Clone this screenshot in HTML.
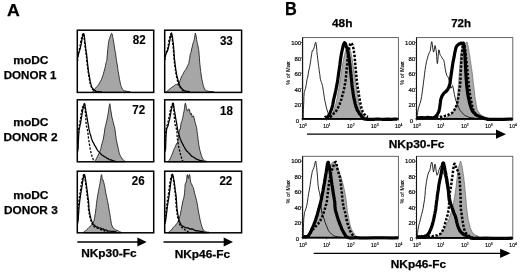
<!DOCTYPE html>
<html><head><meta charset="utf-8"><title>Figure</title>
<style>
html,body{margin:0;padding:0;background:#fff;}
svg{display:block;font-family:"Liberation Sans",sans-serif;filter:blur(0.35px);}
</style></head><body>
<svg width="520" height="273" viewBox="0 0 520 273">
<rect width="520" height="273" fill="#fff"/>
<polygon points="93.0,91.2 93.6,90.4 94.4,89.3 95.4,88.5 96.5,86.9 97.7,86.0 98.9,84.2 100.1,81.9 101.3,79.8 102.4,76.9 103.3,74.4 104.1,71.2 104.8,68.7 105.2,67.0 105.5,65.7 105.8,63.7 106.1,62.5 106.5,61.5 106.8,60.3 107.0,58.2 107.2,56.0 107.4,54.1 107.6,50.8 107.9,48.5 108.2,45.5 108.5,43.1 108.8,41.2 109.2,39.6 109.6,38.5 110.0,36.9 110.4,36.1 110.8,34.9 111.3,33.6 111.7,33.3 112.0,33.6 112.3,34.9 112.6,36.3 112.8,37.5 113.0,38.3 113.3,39.6 113.6,41.8 114.0,44.3 114.4,46.7 114.8,49.4 115.2,51.6 115.6,53.6 115.9,56.1 116.2,58.3 116.5,60.8 116.9,62.9 117.3,64.8 117.6,67.3 117.8,68.1 117.9,69.5 118.2,71.6 118.7,74.4 119.4,78.6 120.0,81.7 120.6,84.5 121.2,86.4 121.8,87.9 122.4,89.3 123.0,89.9 124.1,90.8 126.0,91.2 128.3,91.5 130.0,91.6 130.0,92.4 93.0,92.4" fill="#a6a6a6" stroke="#222" stroke-width="0.9" stroke-linejoin="round"/>
<polyline points="77.6,61.0 77.6,60.2 77.6,59.2 77.7,58.0 77.8,56.3 77.9,55.1 78.1,53.6 78.4,52.9 78.8,51.8 79.1,50.8 79.5,49.2 79.8,47.1 80.2,45.0 80.6,43.0 80.9,40.5 81.3,39.0 81.7,37.2 82.1,35.7 82.5,34.5 82.9,34.0 83.2,33.3 83.4,33.6 83.6,34.5 83.8,35.9 83.9,36.8 84.1,38.5 84.3,40.2 84.5,42.3 84.8,44.4 85.0,46.4 85.2,47.9 85.4,49.5 85.6,50.9 85.8,52.6 86.0,53.9 86.2,54.8 86.3,56.1 86.5,57.4 86.6,58.7 86.7,60.3 86.9,62.1 87.1,63.9 87.4,66.0 87.7,68.7 88.0,71.2 88.4,73.7 88.8,76.4 89.3,78.8 89.7,81.3 90.2,83.6 90.7,85.5 91.2,86.5 91.6,88.0 92.1,88.7 92.5,89.4 93.0,89.9 93.5,90.2 94.1,90.6 94.7,90.7 95.2,91.2 95.5,91.3" fill="none" stroke="#000" stroke-width="1.3" stroke-linejoin="round" stroke-linecap="butt" stroke-dasharray="2.2 1.5" />
<polyline points="77.5,58.5 77.7,57.5 77.9,56.7 78.1,55.8 78.4,54.6 78.7,53.7 79.0,52.4 79.3,51.3 79.7,50.4 80.0,49.1 80.4,47.9 80.8,45.9 81.1,44.6 81.5,42.3 81.9,39.9 82.2,38.3 82.5,36.9 82.8,35.5 83.1,34.1 83.4,33.9 83.6,33.7 83.8,33.6 84.0,34.4 84.2,35.3 84.4,36.7 84.6,38.4 84.8,40.0 85.0,42.4 85.3,43.9 85.5,45.8 85.7,48.4 85.9,49.6 86.1,50.7 86.3,52.4 86.5,53.3 86.7,55.0 86.8,56.7 87.0,57.9 87.1,59.0 87.2,60.1 87.4,61.9 87.6,63.8 87.9,66.6 88.2,68.8 88.5,71.5 88.9,73.6 89.3,75.9 89.8,79.0 90.3,81.7 90.8,83.8 91.3,85.6 91.8,87.0 92.2,87.9 92.6,88.2 93.1,89.0 93.6,89.4 94.1,89.7 94.6,90.1 95.1,90.6 95.7,90.9 96.5,91.5 97.5,91.8 98.8,91.5 100.1,91.9 101.2,92.0 102.0,91.6" fill="none" stroke="#000" stroke-width="1.25" stroke-linejoin="round" stroke-linecap="butt" />
<rect x="77.3" y="30.2" width="76.4" height="62.2" fill="none" stroke="#000" stroke-width="1.5"/>
<text x="132.8" y="44.2" font-size="13" font-weight="bold" textLength="12.9" lengthAdjust="spacingAndGlyphs" stroke="#000" stroke-width="0.15">82</text>
<polygon points="166.5,91.5 166.6,91.9 166.8,91.4 167.3,91.0 168.4,90.1 170.0,88.8 171.4,87.6 172.7,86.8 173.9,86.0 174.9,85.1 175.6,84.5 176.2,84.4 176.7,84.5 177.2,84.2 177.7,84.9 178.2,85.1 178.7,84.4 179.1,83.4 179.6,82.0 180.1,80.3 180.7,79.1 181.3,77.1 182.0,75.9 182.8,74.5 183.7,72.5 184.7,70.9 185.7,69.7 186.6,68.1 187.3,66.4 187.9,65.2 188.4,64.1 188.7,63.6 189.0,62.5 189.2,60.8 189.5,59.3 189.8,57.3 190.1,55.1 190.5,53.6 190.9,52.8 191.3,51.1 191.7,48.9 192.2,47.0 192.7,44.5 193.2,42.7 193.7,41.6 194.2,39.7 194.6,37.5 195.0,34.8 195.4,33.1 195.8,34.3 196.2,37.0 196.6,39.5 197.0,41.8 197.4,43.5 197.8,45.5 198.2,47.1 198.6,49.5 198.9,51.3 199.1,54.3 199.4,57.7 199.6,61.3 199.9,64.3 200.3,68.2 200.7,71.4 201.2,75.1 201.8,78.8 202.4,81.7 203.0,84.6 203.6,86.5 204.2,88.1 204.7,89.8 205.3,90.0 206.5,90.8 208.9,91.4 211.9,91.6 214.0,91.8 214.0,92.4 166.5,92.4" fill="#a6a6a6" stroke="#222" stroke-width="0.9" stroke-linejoin="round"/>
<polyline points="165.0,60.0 165.0,59.2 165.0,58.4 165.1,57.3 165.2,56.3 165.4,54.8 165.7,54.0 166.1,52.7 166.6,51.6 167.1,50.6 167.5,49.0 167.9,47.2 168.2,45.2 168.6,43.1 168.9,40.7 169.3,39.1 169.7,37.4 170.1,36.0 170.5,34.8 170.9,33.8 171.2,33.5 171.4,33.7 171.6,34.8 171.8,35.8 171.9,37.3 172.1,38.8 172.3,40.0 172.5,42.0 172.8,44.2 173.0,46.2 173.2,47.8 173.3,49.7 173.5,51.8 173.6,53.5 173.7,55.6 173.9,57.7 174.2,60.6 174.5,63.5 174.9,66.5 175.3,68.8 175.6,71.5 175.9,73.5 176.2,75.0 176.6,77.0 176.9,78.5 177.2,79.4 177.5,81.2 177.9,82.1 178.2,83.3 178.6,84.7 179.0,85.6 179.5,86.2 180.1,87.3 180.6,88.3 181.2,88.9 181.8,89.5 182.4,90.1 183.0,90.7 183.6,90.6 184.1,91.1 184.5,91.2" fill="none" stroke="#000" stroke-width="1.3" stroke-linejoin="round" stroke-linecap="butt" stroke-dasharray="2.2 1.5" />
<polyline points="165.3,57.3 165.4,56.8 165.5,55.9 165.6,55.4 165.8,54.8 166.1,53.8 166.5,52.5 166.9,52.2 167.4,50.9 167.9,49.8 168.4,47.7 168.8,46.1 169.2,43.9 169.5,42.4 169.9,40.0 170.2,38.2 170.5,37.0 170.8,35.9 171.1,34.7 171.4,33.4 171.6,33.0 171.8,33.9 172.0,34.5 172.2,35.8 172.4,36.7 172.6,38.1 172.8,40.3 173.1,41.9 173.3,43.6 173.5,46.3 173.7,48.1 173.8,50.2 174.0,51.5 174.1,54.0 174.2,55.4 174.4,58.3 174.7,60.5 175.0,63.2 175.4,66.3 175.7,69.3 176.1,71.2 176.4,73.1 176.8,75.2 177.1,76.5 177.5,77.9 177.8,79.3 178.1,80.6 178.5,81.9 178.8,83.2 179.2,84.2 179.6,85.6 180.1,86.2 180.7,87.3 181.3,87.9 181.9,88.7 182.5,89.1 183.1,89.8 183.6,90.0 184.1,90.8 184.7,90.9 185.4,90.9 186.3,91.3 187.3,91.8 188.4,91.2 189.3,91.9 190.0,91.7" fill="none" stroke="#000" stroke-width="1.25" stroke-linejoin="round" stroke-linecap="butt" />
<rect x="164.7" y="30.2" width="76.9" height="62.2" fill="none" stroke="#000" stroke-width="1.5"/>
<text x="219.9" y="45.0" font-size="13" font-weight="bold" textLength="12.9" lengthAdjust="spacingAndGlyphs" stroke="#000" stroke-width="0.15">33</text>
<polygon points="94.5,161.5 94.8,161.2 95.2,160.7 95.7,160.1 96.4,158.5 97.2,156.9 98.0,155.3 98.8,153.8 99.7,151.6 100.4,150.2 100.9,148.6 101.2,147.0 101.6,145.1 102.1,143.4 102.7,141.3 103.3,139.1 103.8,136.1 104.3,133.1 104.7,129.8 105.0,127.8 105.3,126.4 105.7,125.2 106.2,123.1 106.8,120.5 107.4,117.8 107.8,115.5 108.2,113.1 108.6,110.9 109.0,107.8 109.4,105.2 109.8,103.7 110.2,105.5 110.5,108.4 110.9,110.9 111.3,113.1 111.7,116.0 112.1,117.9 112.7,120.3 113.3,122.5 113.9,124.9 114.3,126.6 114.7,128.1 115.0,129.8 115.4,132.9 115.8,135.8 116.2,139.2 116.8,142.0 117.4,144.9 118.0,147.3 118.5,149.8 119.0,152.3 119.7,154.4 120.6,156.5 121.7,158.0 122.7,159.5 123.8,160.4 124.8,161.2 125.5,161.5 125.5,161.8 94.5,161.8" fill="#a6a6a6" stroke="#222" stroke-width="0.9" stroke-linejoin="round"/>
<polyline points="77.6,152.0 77.6,150.2 77.7,147.1 77.7,143.7 77.8,140.9 77.9,137.8 78.0,136.1 78.1,134.4 78.2,132.5 78.3,131.6 78.5,130.2 78.7,128.8 78.9,127.7 79.1,126.6 79.3,125.0 79.5,124.0 79.7,122.6 80.0,121.4 80.2,119.9 80.5,118.4 80.7,116.9 80.9,115.6 81.1,114.0 81.3,112.5 81.6,110.9 81.9,109.4 82.3,108.1 82.8,106.7 83.3,105.2 83.7,104.7 84.1,104.1 84.4,104.6 84.6,105.5 84.8,106.9 84.9,108.3 85.1,109.4 85.2,111.2 85.4,112.5 85.5,113.8 85.6,115.3 85.7,116.9 85.8,118.2 85.9,120.3 86.0,121.7 86.1,123.3 86.3,124.9 86.5,126.3 86.7,126.8 87.0,128.0 87.3,129.1 87.5,130.0 87.7,131.5 88.0,133.4 88.2,135.5 88.4,137.5 88.7,139.5 89.0,141.6 89.3,143.5 89.7,145.8 90.0,147.9 90.4,150.1 90.8,151.6 91.1,153.3 91.5,154.3 91.8,155.6 92.2,156.9 92.6,158.1 93.0,159.0 93.3,159.8 93.7,160.1 93.9,160.7" fill="none" stroke="#000" stroke-width="1.3" stroke-linejoin="round" stroke-linecap="butt" stroke-dasharray="2.2 1.5" />
<polyline points="78.0,150.0 78.1,148.2 78.2,145.5 78.3,142.4 78.5,139.2 78.6,137.3 78.7,134.8 78.9,133.7 79.0,132.1 79.1,130.0 79.3,129.0 79.5,128.1 79.7,127.2 79.9,125.8 80.2,124.7 80.4,123.6 80.6,122.9 80.9,120.9 81.1,119.8 81.4,117.9 81.6,116.8 81.8,115.7 82.1,113.6 82.3,112.7 82.5,111.0 82.8,110.0 83.1,108.4 83.5,106.5 83.8,105.6 84.2,104.3 84.5,103.5 84.8,103.9 85.0,105.3 85.2,106.7 85.5,108.1 85.7,109.4 85.9,110.9 86.2,112.3 86.4,114.2 86.7,115.0 86.9,117.0 87.1,118.5 87.4,119.3 87.6,121.4 87.9,122.6 88.1,124.1 88.3,124.9 88.5,126.2 88.7,127.4 88.9,129.1 89.2,130.1 89.5,131.2 89.8,132.7 90.2,134.0 90.6,135.2 91.0,136.7 91.5,138.7 92.0,139.7 92.6,141.6 93.2,142.4 93.9,143.8 94.6,145.4 95.4,146.4 96.2,147.9 97.1,149.6 98.0,150.8 99.0,151.9 100.0,152.9 101.1,154.2 102.2,155.2 103.3,155.8 104.5,156.8 105.7,157.1 107.0,158.3 108.2,158.7 109.2,159.5 110.1,159.8 110.8,159.9 111.4,159.9 112.1,160.8 112.7,160.4 113.4,160.9 114.2,161.0 114.9,161.1 115.6,161.5 116.0,161.5" fill="none" stroke="#000" stroke-width="1.25" stroke-linejoin="round" stroke-linecap="butt" />
<rect x="77.3" y="99.8" width="76.4" height="62.0" fill="none" stroke="#000" stroke-width="1.5"/>
<text x="132.2" y="114.3" font-size="13" font-weight="bold" textLength="12.9" lengthAdjust="spacingAndGlyphs" stroke="#000" stroke-width="0.15">72</text>
<polygon points="167.5,161.5 168.0,161.5 168.8,160.6 169.6,160.0 170.4,158.3 171.2,156.6 172.0,154.5 172.8,152.5 173.5,150.5 174.3,148.6 175.1,147.2 176.0,145.0 176.7,143.3 177.2,143.0 177.5,142.7 177.8,141.7 178.0,140.2 178.2,138.6 178.4,136.7 178.8,134.5 179.2,131.7 179.6,129.8 179.8,129.3 180.0,129.6 180.2,129.3 180.5,127.3 180.9,124.6 181.3,122.5 181.6,121.6 181.9,121.0 182.2,120.2 182.5,118.6 182.8,117.2 183.1,115.9 183.5,113.5 183.9,111.8 184.3,109.8 184.6,107.3 185.0,104.2 185.4,103.1 185.9,105.0 186.6,108.5 187.2,110.9 187.8,110.9 188.4,109.3 189.0,108.8 189.5,109.8 190.0,112.3 190.4,114.5 190.7,114.6 191.0,113.5 191.3,113.3 191.6,113.9 191.9,115.7 192.2,117.1 192.6,116.7 193.0,115.9 193.4,115.9 193.8,116.8 194.3,118.9 194.8,121.2 195.4,123.5 196.1,125.7 196.6,127.6 196.8,128.4 196.8,129.0 196.9,130.2 197.1,131.9 197.5,134.5 197.8,136.7 198.1,139.8 198.5,142.2 198.9,145.5 199.4,148.1 200.0,150.7 200.7,153.1 201.4,155.5 202.3,157.8 203.0,159.4 203.6,159.9 204.2,160.1 204.8,160.7 205.6,161.1 206.4,161.2 207.0,161.5 207.0,161.8 167.5,161.8" fill="#a6a6a6" stroke="#222" stroke-width="0.9" stroke-linejoin="round"/>
<polyline points="165.0,152.0 165.0,149.8 165.1,147.2 165.1,143.5 165.2,140.5 165.3,138.0 165.4,136.2 165.5,134.3 165.6,132.8 165.7,131.2 165.9,129.8 166.1,128.9 166.3,128.6 166.5,127.8 166.7,126.9 167.0,125.8 167.3,124.9 167.6,123.7 168.0,122.2 168.3,120.6 168.7,119.2 169.0,117.6 169.4,115.2 169.7,113.1 170.1,111.3 170.5,109.7 170.9,108.2 171.4,106.2 171.9,105.1 172.3,104.0 172.7,103.5 173.0,103.8 173.2,105.3 173.4,106.4 173.5,108.4 173.7,109.5 173.8,110.9 174.0,112.6 174.1,113.8 174.2,115.6 174.3,116.8 174.4,118.0 174.5,119.5 174.6,121.0 174.7,122.6 174.9,124.1 175.2,124.9 175.6,126.2 176.0,127.3 176.4,129.0 176.7,129.8 176.9,131.1 177.0,132.4 177.0,134.0 177.1,135.7 177.2,137.2 177.4,138.7 177.6,140.5 177.8,142.1 178.1,143.4 178.4,145.0 178.7,147.1 179.1,148.7 179.5,150.0 179.8,152.0 180.2,153.3 180.6,154.7 180.9,156.0 181.3,157.1 181.6,158.1 181.9,159.2 182.2,159.9 182.4,160.8 182.7,160.7 182.9,161.5 183.0,161.5" fill="none" stroke="#000" stroke-width="1.3" stroke-linejoin="round" stroke-linecap="butt" stroke-dasharray="2.2 1.5" />
<polyline points="165.5,150.0 165.6,147.9 165.7,145.4 165.8,142.7 165.9,139.7 166.0,136.9 166.1,134.6 166.2,133.2 166.4,131.5 166.5,130.5 166.7,128.8 166.9,128.1 167.1,128.0 167.4,126.9 167.6,126.8 167.9,126.3 168.2,125.2 168.5,123.3 168.9,121.9 169.2,120.4 169.6,119.4 170.0,117.1 170.3,115.6 170.7,113.7 171.0,111.3 171.4,109.5 171.8,108.4 172.1,106.4 172.5,104.6 172.8,103.9 173.1,103.2 173.4,103.6 173.6,104.5 173.8,106.7 174.1,108.5 174.3,109.8 174.5,111.4 174.8,112.1 175.0,113.7 175.3,115.4 175.5,117.2 175.7,118.6 176.0,119.6 176.2,120.9 176.5,122.4 176.7,123.8 176.9,125.4 177.1,126.0 177.3,127.7 177.5,128.9 177.8,130.3 178.1,131.6 178.4,132.9 178.8,134.1 179.2,135.5 179.6,136.9 180.0,138.5 180.4,139.1 180.9,140.4 181.4,141.9 181.9,142.7 182.5,143.7 183.2,144.9 183.9,146.5 184.6,147.5 185.4,149.2 186.3,150.3 187.2,151.6 188.2,152.3 189.1,153.3 190.1,154.3 191.0,155.5 191.9,156.4 192.8,156.8 193.8,157.3 194.8,158.0 195.9,158.8 197.2,159.3 198.5,159.9 199.7,160.4 200.7,160.6 201.6,160.5 202.4,161.3 203.0,161.1 203.6,161.4 204.0,161.5" fill="none" stroke="#000" stroke-width="1.25" stroke-linejoin="round" stroke-linecap="butt" />
<rect x="164.7" y="99.8" width="76.9" height="62.0" fill="none" stroke="#000" stroke-width="1.5"/>
<text x="220.0" y="114.5" font-size="13" font-weight="bold" textLength="12.9" lengthAdjust="spacingAndGlyphs" stroke="#000" stroke-width="0.15">18</text>
<polygon points="83.4,232.3 84.3,231.6 85.6,230.9 86.9,229.5 88.1,228.4 89.3,227.2 90.4,226.0 91.3,225.5 92.1,224.4 92.8,223.2 93.4,221.9 94.0,220.8 94.5,218.6 94.9,216.0 95.3,213.6 95.7,210.5 96.1,207.5 96.5,203.4 96.9,200.5 97.3,198.2 97.6,195.9 98.0,193.9 98.4,191.3 98.8,189.6 99.2,187.5 99.6,185.3 100.0,183.4 100.4,180.8 100.8,178.4 101.2,175.5 101.5,174.6 101.8,175.3 102.0,177.5 102.3,179.7 102.6,180.3 102.9,179.8 103.3,180.8 103.8,182.4 104.2,184.3 104.7,186.5 105.0,188.2 105.3,190.1 105.7,192.2 106.2,194.9 106.8,197.7 107.4,200.3 108.0,203.3 108.6,206.9 109.2,210.5 109.8,213.8 110.4,217.6 110.9,220.7 111.3,223.3 111.6,224.8 112.1,225.9 112.7,227.1 113.5,228.2 114.4,229.1 115.7,230.0 117.1,230.3 118.5,231.0 119.7,231.8 120.8,232.1 121.5,232.4 121.5,232.8 83.4,232.8" fill="#a6a6a6" stroke="#222" stroke-width="0.9" stroke-linejoin="round"/>
<polyline points="77.6,224.0 77.7,221.7 77.8,218.7 77.9,215.6 78.1,211.7 78.2,209.0 78.4,206.7 78.5,204.7 78.7,203.2 78.9,201.7 79.0,199.9 79.1,198.7 79.2,198.3 79.3,197.4 79.4,196.6 79.5,196.2 79.7,194.8 79.9,193.6 80.2,191.9 80.4,190.7 80.7,188.9 80.9,187.1 81.1,185.3 81.4,183.9 81.6,182.3 81.9,180.9 82.3,178.9 82.7,177.6 83.1,175.9 83.5,174.9 83.9,174.3 84.2,174.8 84.5,176.0 84.7,177.7 85.0,178.9 85.2,180.7 85.4,182.4 85.7,184.2 85.9,185.4 86.1,187.1 86.3,189.2 86.5,190.7 86.7,191.8 86.8,193.0 87.0,194.9 87.2,195.9 87.4,197.6 87.6,198.9 87.8,200.4 87.9,201.4 88.1,203.2 88.2,204.3 88.3,205.8 88.3,207.6 88.4,209.1 88.6,210.2 88.9,211.9 89.2,213.7 89.6,215.5 89.9,217.1 90.3,218.4 90.6,219.7 91.0,221.0 91.3,222.1 91.6,222.4 92.0,223.5 92.3,224.4 92.6,224.5 92.8,225.5 93.3,225.6 93.9,226.5 94.8,227.0 96.0,227.7 97.3,228.1 98.6,228.7 99.8,229.3 100.8,229.7 101.8,230.2 102.8,230.4 103.7,230.7 104.5,230.7 105.3,231.4 106.2,231.6 106.9,231.7 107.5,232.3 108.0,232.3" fill="none" stroke="#000" stroke-width="1.3" stroke-linejoin="round" stroke-linecap="butt" stroke-dasharray="2.2 1.5" />
<polyline points="78.0,222.0 78.1,220.2 78.3,217.1 78.6,213.6 78.8,210.6 79.0,207.7 79.2,205.7 79.4,204.1 79.6,202.3 79.7,201.2 79.9,200.0 80.0,198.6 80.1,198.4 80.2,197.3 80.3,197.1 80.4,196.2 80.6,194.8 80.8,193.1 81.1,192.0 81.3,190.3 81.6,189.3 81.8,187.0 82.1,185.9 82.3,184.3 82.5,182.4 82.8,181.0 83.1,178.9 83.4,177.8 83.7,175.8 84.0,175.1 84.3,174.6 84.6,174.5 84.9,176.1 85.2,177.7 85.4,178.8 85.7,180.6 86.0,182.4 86.2,183.6 86.5,185.9 86.7,187.1 86.9,189.2 87.1,190.1 87.3,191.8 87.5,193.6 87.6,194.4 87.8,195.8 88.0,197.4 88.2,198.6 88.4,199.8 88.5,201.3 88.7,202.7 88.8,204.8 88.9,206.0 88.9,207.7 89.0,208.6 89.2,210.6 89.5,211.7 89.8,213.8 90.2,215.6 90.6,217.1 91.0,218.9 91.3,219.8 91.7,220.9 92.0,222.0 92.4,222.2 92.8,223.7 93.3,224.1 93.8,224.5 94.3,225.4 94.9,225.5 95.7,226.6 96.6,226.8 97.6,227.1 98.7,227.9 99.9,228.0 101.0,228.2 102.1,229.1 103.2,228.9 104.4,229.9 105.5,229.8 106.8,230.4 108.2,231.0 109.7,231.0 111.3,231.3 112.7,231.3 113.9,231.3 114.8,231.5 115.6,231.8 116.2,232.3 116.6,232.3 117.0,232.4" fill="none" stroke="#000" stroke-width="1.25" stroke-linejoin="round" stroke-linecap="butt" />
<rect x="77.3" y="171.2" width="76.4" height="61.6" fill="none" stroke="#000" stroke-width="1.5"/>
<text x="131.7" y="184.6" font-size="13" font-weight="bold" textLength="12.9" lengthAdjust="spacingAndGlyphs" stroke="#000" stroke-width="0.15">26</text>
<polygon points="168.5,232.3 168.7,232.3 169.0,232.4 169.6,231.4 170.6,230.5 171.8,229.5 173.1,227.7 174.4,226.3 175.6,225.1 176.7,223.6 177.4,222.8 177.9,221.9 178.4,221.0 179.0,219.2 179.6,216.9 180.2,215.2 180.6,213.2 180.9,211.1 181.3,209.5 181.9,206.2 182.5,203.0 183.1,200.2 183.6,198.5 184.0,196.9 184.3,195.0 184.6,192.7 184.7,190.6 184.9,188.6 185.0,187.3 185.0,185.7 185.2,184.1 185.6,183.2 186.2,182.0 186.6,181.0 186.8,178.6 187.0,175.6 187.2,174.6 187.5,174.9 187.9,177.4 188.3,178.4 188.7,177.1 189.1,174.8 189.5,174.5 189.9,175.7 190.2,179.2 190.7,182.2 191.3,183.5 192.1,185.1 192.7,186.7 193.1,187.4 193.4,188.1 193.7,189.1 194.0,190.2 194.4,192.1 194.8,194.1 195.4,195.8 196.0,198.4 196.6,200.7 197.2,203.7 197.7,206.7 198.3,210.6 198.9,213.8 199.5,216.8 200.1,220.0 200.7,222.4 201.3,224.6 201.9,226.5 202.4,228.1 202.9,229.1 203.6,230.2 204.5,231.1 205.5,231.5 206.5,231.9 207.5,232.2 208.4,232.1 209.0,232.4 209.0,232.8 168.5,232.8" fill="#a6a6a6" stroke="#222" stroke-width="0.9" stroke-linejoin="round"/>
<polyline points="165.0,224.0 165.2,221.9 165.4,218.8 165.7,215.5 166.0,211.9 166.3,208.9 166.6,206.8 166.8,205.0 167.1,202.8 167.3,201.6 167.5,199.7 167.7,198.8 167.8,198.0 167.9,197.7 168.0,197.2 168.1,196.1 168.3,194.7 168.5,193.7 168.7,191.9 168.9,190.3 169.1,189.1 169.3,187.4 169.5,185.7 169.7,184.0 169.9,182.5 170.2,180.7 170.5,179.3 170.9,177.6 171.3,176.2 171.7,174.9 172.1,174.6 172.4,175.0 172.7,175.9 173.0,177.3 173.2,179.2 173.5,180.4 173.7,182.5 174.0,183.7 174.2,185.3 174.4,187.1 174.6,189.2 174.8,190.3 175.0,191.6 175.2,192.9 175.3,194.3 175.5,196.1 175.6,197.5 175.7,198.9 175.8,200.3 175.9,201.3 176.0,203.1 176.1,204.3 176.2,206.0 176.3,207.5 176.4,209.0 176.6,210.1 176.9,212.4 177.2,214.4 177.5,216.5 177.9,217.9 178.3,219.6 178.7,221.0 179.0,222.2 179.4,223.8 179.9,224.8 180.3,225.6 180.8,226.5 181.3,227.0 181.9,227.4 182.4,227.8 183.0,228.3 183.6,229.1 184.2,229.2 184.8,229.7 185.4,230.1 186.0,230.2 186.6,230.8 187.3,231.2 188.0,231.8 188.6,232.0 189.0,232.3" fill="none" stroke="#000" stroke-width="1.3" stroke-linejoin="round" stroke-linecap="butt" stroke-dasharray="2.2 1.5" />
<polyline points="165.5,222.0 165.7,219.9 166.1,217.5 166.5,213.8 166.9,210.9 167.2,208.1 167.5,205.6 167.7,204.1 168.0,202.6 168.2,201.5 168.4,199.9 168.6,199.2 168.7,198.3 168.8,197.4 168.9,197.2 169.0,195.7 169.2,195.1 169.4,193.2 169.6,191.6 169.8,190.2 170.0,189.1 170.2,187.7 170.4,185.2 170.6,183.9 170.9,182.2 171.1,180.9 171.4,178.8 171.6,177.4 171.9,175.7 172.2,175.0 172.5,174.1 172.8,175.1 173.1,175.7 173.4,177.2 173.7,179.3 174.0,180.7 174.2,181.9 174.5,184.0 174.7,185.3 174.9,187.5 175.1,189.1 175.3,190.6 175.5,191.9 175.7,193.1 175.9,194.5 176.1,195.9 176.2,197.7 176.3,198.5 176.4,200.5 176.5,201.2 176.6,202.8 176.7,204.2 176.8,206.2 176.9,207.3 177.0,208.7 177.2,210.7 177.5,212.0 177.8,214.2 178.2,216.3 178.6,218.4 179.0,220.0 179.4,221.3 179.8,222.2 180.2,223.2 180.7,223.9 181.3,225.3 182.0,225.8 182.7,226.4 183.5,226.4 184.4,227.0 185.4,227.6 186.5,227.8 187.6,227.8 188.9,228.4 190.1,229.1 191.3,228.9 192.5,229.2 193.7,229.7 194.9,230.4 196.1,230.9 197.2,230.6 198.2,230.9 199.2,231.1 200.2,231.3 201.1,231.6 201.9,231.4 202.7,231.7 203.4,231.8 204.1,232.5 204.6,232.5 205.0,232.4" fill="none" stroke="#000" stroke-width="1.25" stroke-linejoin="round" stroke-linecap="butt" />
<rect x="164.7" y="171.2" width="76.9" height="61.6" fill="none" stroke="#000" stroke-width="1.5"/>
<text x="219.4" y="184.6" font-size="13" font-weight="bold" textLength="12.9" lengthAdjust="spacingAndGlyphs" stroke="#000" stroke-width="0.15">22</text>
<line x1="77.3" y1="242.0" x2="138.4" y2="242.0" stroke="#000" stroke-width="1.3"/><polygon points="146.7,242.0 137.4,237.6 137.4,246.4" fill="#000"/>
<line x1="163.5" y1="242.0" x2="224.7" y2="242.0" stroke="#000" stroke-width="1.3"/><polygon points="233.0,242.0 223.7,237.6 223.7,246.4" fill="#000"/>
<text x="6.9" y="16.2" font-size="17" font-weight="bold" text-anchor="start" textLength="12.8" lengthAdjust="spacingAndGlyphs" stroke="#000" stroke-width="0.25">A</text>
<text x="285.0" y="14.6" font-size="17.5" font-weight="bold" text-anchor="start" textLength="11.8" lengthAdjust="spacingAndGlyphs" stroke="#000" stroke-width="0.25">B</text>
<text x="81.2" y="257.2" font-size="11.5" font-weight="bold" text-anchor="start" textLength="55.4" lengthAdjust="spacingAndGlyphs" stroke="#000" stroke-width="0.25">NKp30-Fc</text>
<text x="174.7" y="258.4" font-size="11.5" font-weight="bold" text-anchor="start" textLength="55.4" lengthAdjust="spacingAndGlyphs" stroke="#000" stroke-width="0.25">NKp46-Fc</text>
<text x="388.7" y="147.9" font-size="11.5" font-weight="bold" text-anchor="start" textLength="55.6" lengthAdjust="spacingAndGlyphs" stroke="#000" stroke-width="0.25">NKp30-Fc</text>
<text x="390.8" y="267.9" font-size="11.5" font-weight="bold" text-anchor="start" textLength="55.3" lengthAdjust="spacingAndGlyphs" stroke="#000" stroke-width="0.25">NKp46-Fc</text>
<text x="332.0" y="27.0" font-size="11.5" font-weight="bold" text-anchor="start" textLength="20.5" lengthAdjust="spacingAndGlyphs" stroke="#000" stroke-width="0.25">48h</text>
<text x="451.2" y="27.2" font-size="11.5" font-weight="bold" text-anchor="start" textLength="19.8" lengthAdjust="spacingAndGlyphs" stroke="#000" stroke-width="0.25">72h</text>
<text x="13.3" y="64.2" font-size="11.5" font-weight="bold" text-anchor="start" textLength="35.2" lengthAdjust="spacingAndGlyphs" stroke="#000" stroke-width="0.25">moDC</text>
<text x="3.7" y="78.8" font-size="11.5" font-weight="bold" text-anchor="start" textLength="52.7" lengthAdjust="spacingAndGlyphs" stroke="#000" stroke-width="0.25">DONOR 1</text>
<text x="13.3" y="125.6" font-size="11.5" font-weight="bold" text-anchor="start" textLength="35.2" lengthAdjust="spacingAndGlyphs" stroke="#000" stroke-width="0.25">moDC</text>
<text x="3.4" y="140.6" font-size="11.5" font-weight="bold" text-anchor="start" textLength="54.2" lengthAdjust="spacingAndGlyphs" stroke="#000" stroke-width="0.25">DONOR 2</text>
<text x="13.3" y="199.3" font-size="11.5" font-weight="bold" text-anchor="start" textLength="35.2" lengthAdjust="spacingAndGlyphs" stroke="#000" stroke-width="0.25">moDC</text>
<text x="4.0" y="213.9" font-size="11.5" font-weight="bold" text-anchor="start" textLength="53.7" lengthAdjust="spacingAndGlyphs" stroke="#000" stroke-width="0.25">DONOR 3</text>
<polygon points="326.0,118.6 326.9,117.9 328.3,118.3 329.7,116.7 331.0,115.9 332.0,114.9 332.9,112.7 333.7,110.4 334.5,107.9 335.2,105.7 335.8,104.1 336.4,101.3 337.0,98.7 337.6,95.6 338.2,91.5 338.9,87.9 339.5,84.3 340.1,80.2 340.8,75.9 341.4,71.9 342.0,68.0 342.6,64.0 343.3,61.0 343.9,57.7 344.5,55.2 345.0,53.1 345.5,50.7 346.0,49.3 346.5,48.2 347.0,47.1 347.4,46.4 347.9,46.7 348.3,46.9 348.7,47.0 349.1,47.4 349.6,48.2 350.0,49.2 350.4,50.7 350.9,52.4 351.4,54.5 351.8,57.1 352.2,59.1 352.6,62.2 353.1,65.4 353.5,68.2 353.9,71.0 354.4,73.5 354.8,76.7 355.3,80.0 355.8,83.8 356.4,87.5 357.0,91.6 357.5,95.4 358.0,97.8 358.5,101.2 359.0,103.9 359.5,105.9 360.1,108.1 360.6,110.4 361.3,111.1 362.0,113.0 362.9,114.0 363.9,115.9 365.0,117.1 366.0,117.5 367.1,117.7 368.2,118.5 369.3,118.6 370.0,118.7 370.0,118.9 326.0,118.9" fill="#ababab" stroke="#555" stroke-width="0.6" stroke-linejoin="round"/>
<polyline points="303.2,118.0 303.3,114.8 303.4,109.8 303.6,105.1 303.8,101.0 303.9,96.5 304.2,92.9 304.6,91.4 305.1,89.3 305.6,88.2 306.0,85.5 306.5,83.2 307.0,79.6 307.7,77.1 308.4,72.9 309.0,69.6 309.4,67.9 309.7,66.8 310.0,64.8 310.4,62.6 310.8,59.7 311.2,57.2 311.6,54.4 312.0,52.1 312.4,50.4 312.8,50.3 313.2,50.4 313.6,49.5 314.0,47.9 314.4,46.8 314.8,44.9 315.2,43.4 315.6,42.2 315.9,42.7 316.2,44.0 316.4,46.0 316.6,48.0 316.8,49.9 316.9,51.3 317.1,54.1 317.4,55.8 317.7,58.7 318.0,61.3 318.3,63.6 318.5,65.5 318.8,67.4 319.1,69.5 319.3,70.8 319.6,73.3 319.9,75.2 320.2,78.2 320.6,79.8 321.0,81.4 321.5,82.4 322.0,83.9 322.4,85.5 322.8,87.3 323.2,90.2 323.5,92.2 323.9,94.7 324.3,97.5 324.9,100.7 325.6,103.9 326.3,107.1 327.0,110.0 327.8,112.3 328.6,115.0 329.5,116.6 330.5,117.0 331.7,118.6 333.2,118.7 334.8,118.7 336.0,118.7" fill="none" stroke="#111" stroke-width="0.9" stroke-linejoin="round" stroke-linecap="butt" />
<clipPath id="cp0"><rect x="302.1" y="36.6" width="96.8" height="84.5"/></clipPath>
<polyline points="330.0,117.0 330.4,116.9 331.0,116.4 331.6,115.5 332.3,115.3 333.0,114.6 333.7,113.5 334.4,112.8 335.1,112.6 335.8,111.5 336.5,110.3 337.2,109.0 337.9,107.8 338.6,106.5 339.2,105.4 339.8,103.7 340.3,102.1 340.8,101.0 341.3,99.4 341.8,97.4 342.2,96.2 342.6,94.5 343.1,93.0 343.5,91.3 343.8,89.8 344.2,88.2 344.5,86.6 344.8,84.7 345.1,83.5 345.4,81.7 345.6,80.1 345.8,78.1 346.0,76.5 346.2,74.3 346.4,72.1 346.6,69.8 346.8,67.3 347.1,64.8 347.3,61.8 347.5,59.4 347.8,56.8 348.1,54.8 348.3,52.7 348.6,50.8 348.9,49.2 349.2,47.2 349.5,46.3 349.9,44.9 350.2,44.0 350.6,43.3 351.0,43.1 351.4,42.9 351.8,43.5 352.2,44.6 352.6,45.1 353.0,46.6 353.3,47.9 353.6,49.0 353.9,51.1 354.1,53.0 354.4,55.3 354.7,57.2 354.9,60.2 355.1,62.7 355.4,65.4 355.6,68.2 355.8,70.2 356.1,73.1 356.3,75.5 356.5,77.6 356.8,80.2 357.1,82.1 357.3,84.2 357.6,86.2 357.9,88.3 358.2,89.8 358.5,91.8 358.7,93.5 359.0,95.2 359.3,97.1 359.6,98.5 359.9,100.6 360.3,102.3 360.6,104.3 361.0,106.0 361.4,107.8 361.8,109.6 362.3,110.7 362.8,112.1 363.4,112.9 364.0,113.9 364.8,114.7 365.7,115.6 366.6,116.3 367.4,116.8 368.0,117.0" fill="none" stroke="#000" stroke-width="2.5" stroke-linejoin="round" stroke-linecap="butt" stroke-dasharray="2.4 1.6" clip-path="url(#cp0)"/>
<polyline points="325.0,117.7 325.5,117.2 326.2,117.5 327.1,117.4 327.9,116.6 328.7,115.5 329.4,114.5 330.1,112.8 330.7,111.2 331.3,109.9 331.9,107.9 332.4,106.2 332.8,104.5 333.1,102.7 333.5,100.6 333.9,98.7 334.4,96.7 334.9,94.7 335.3,92.5 335.8,90.4 336.3,87.8 336.7,85.9 337.1,83.6 337.5,81.6 337.9,78.6 338.3,75.8 338.8,72.2 339.3,68.6 339.9,64.5 340.4,60.4 340.9,56.9 341.3,54.6 341.7,52.5 342.1,50.5 342.5,48.8 342.8,47.4 343.1,46.1 343.4,44.9 343.7,44.0 344.0,43.5 344.3,43.3 344.6,42.6 344.9,43.2 345.2,43.3 345.5,44.0 345.8,45.2 346.1,45.8 346.4,47.0 346.8,47.7 347.1,48.5 347.4,49.9 347.7,51.3 348.0,52.9 348.3,54.3 348.5,55.4 348.8,56.9 349.1,58.4 349.3,60.6 349.5,62.1 349.8,63.9 350.0,65.7 350.2,67.4 350.4,69.7 350.6,71.1 350.8,73.5 351.0,74.7 351.2,77.2 351.4,78.7 351.6,80.6 351.8,83.1 352.0,84.8 352.2,87.2 352.5,88.8 352.8,90.8 353.1,93.3 353.4,95.1 353.7,97.2 354.1,99.0 354.5,100.3 354.9,102.5 355.3,104.1 355.7,105.5 356.2,107.2 356.6,108.0 357.1,109.7 357.6,110.7 358.1,111.2 358.6,112.0 359.2,113.3 359.8,114.2 360.5,114.5 361.2,115.6 361.9,116.9 362.7,117.5 363.9,118.9 365.5,119.2 367.7,119.4 370.5,119.4 373.5,119.4 376.8,119.0 380.0,119.2 383.6,119.3 387.6,119.2 391.6,119.4 395.1,119.0 397.5,119.2" fill="none" stroke="#000" stroke-width="3.2" stroke-linejoin="round" stroke-linecap="butt" clip-path="url(#cp0)"/>
<rect x="302.6" y="37.6" width="95.8" height="81.3" fill="none" stroke="#555" stroke-width="0.9"/>
<polyline points="302.6,37.6 302.6,118.9 398.4,118.9" fill="none" stroke="#111" stroke-width="1.1"/>
<line x1="302.6" y1="118.9" x2="398.4" y2="118.9" stroke="#000" stroke-width="1.7"/>
<line x1="301.6" y1="42.5" x2="302.6" y2="42.5" stroke="#333" stroke-width="0.45"/>
<line x1="301.6" y1="45.6" x2="302.6" y2="45.6" stroke="#333" stroke-width="0.45"/>
<line x1="301.6" y1="48.6" x2="302.6" y2="48.6" stroke="#333" stroke-width="0.45"/>
<line x1="301.6" y1="51.7" x2="302.6" y2="51.7" stroke="#333" stroke-width="0.45"/>
<line x1="301.6" y1="54.7" x2="302.6" y2="54.7" stroke="#333" stroke-width="0.45"/>
<line x1="301.6" y1="57.8" x2="302.6" y2="57.8" stroke="#333" stroke-width="0.45"/>
<line x1="301.6" y1="60.8" x2="302.6" y2="60.8" stroke="#333" stroke-width="0.45"/>
<line x1="301.6" y1="63.9" x2="302.6" y2="63.9" stroke="#333" stroke-width="0.45"/>
<line x1="301.6" y1="66.9" x2="302.6" y2="66.9" stroke="#333" stroke-width="0.45"/>
<line x1="301.6" y1="70.0" x2="302.6" y2="70.0" stroke="#333" stroke-width="0.45"/>
<line x1="301.6" y1="73.1" x2="302.6" y2="73.1" stroke="#333" stroke-width="0.45"/>
<line x1="301.6" y1="76.1" x2="302.6" y2="76.1" stroke="#333" stroke-width="0.45"/>
<line x1="301.6" y1="79.2" x2="302.6" y2="79.2" stroke="#333" stroke-width="0.45"/>
<line x1="301.6" y1="82.2" x2="302.6" y2="82.2" stroke="#333" stroke-width="0.45"/>
<line x1="301.6" y1="85.3" x2="302.6" y2="85.3" stroke="#333" stroke-width="0.45"/>
<line x1="301.6" y1="88.3" x2="302.6" y2="88.3" stroke="#333" stroke-width="0.45"/>
<line x1="301.6" y1="91.4" x2="302.6" y2="91.4" stroke="#333" stroke-width="0.45"/>
<line x1="301.6" y1="94.5" x2="302.6" y2="94.5" stroke="#333" stroke-width="0.45"/>
<line x1="301.6" y1="97.5" x2="302.6" y2="97.5" stroke="#333" stroke-width="0.45"/>
<line x1="301.6" y1="100.6" x2="302.6" y2="100.6" stroke="#333" stroke-width="0.45"/>
<line x1="301.6" y1="103.6" x2="302.6" y2="103.6" stroke="#333" stroke-width="0.45"/>
<line x1="301.6" y1="106.7" x2="302.6" y2="106.7" stroke="#333" stroke-width="0.45"/>
<line x1="301.6" y1="109.7" x2="302.6" y2="109.7" stroke="#333" stroke-width="0.45"/>
<line x1="301.6" y1="112.8" x2="302.6" y2="112.8" stroke="#333" stroke-width="0.45"/>
<line x1="301.6" y1="115.8" x2="302.6" y2="115.8" stroke="#333" stroke-width="0.45"/>
<line x1="301.6" y1="118.9" x2="302.6" y2="118.9" stroke="#333" stroke-width="0.45"/>
<line x1="301.0" y1="42.5" x2="302.6" y2="42.5" stroke="#222" stroke-width="0.6"/>
<text x="301.2" y="45.0" font-size="6" text-anchor="end" fill="#000" stroke="#000" stroke-width="0.18">100</text>
<line x1="301.0" y1="57.8" x2="302.6" y2="57.8" stroke="#222" stroke-width="0.6"/>
<text x="301.2" y="60.5" font-size="6" text-anchor="end" fill="#000" stroke="#000" stroke-width="0.18">80</text>
<line x1="301.0" y1="73.1" x2="302.6" y2="73.1" stroke="#222" stroke-width="0.6"/>
<text x="301.2" y="76.1" font-size="6" text-anchor="end" fill="#000" stroke="#000" stroke-width="0.18">60</text>
<line x1="301.0" y1="88.3" x2="302.6" y2="88.3" stroke="#222" stroke-width="0.6"/>
<text x="301.2" y="91.6" font-size="6" text-anchor="end" fill="#000" stroke="#000" stroke-width="0.18">40</text>
<line x1="301.0" y1="103.6" x2="302.6" y2="103.6" stroke="#222" stroke-width="0.6"/>
<text x="301.2" y="107.2" font-size="6" text-anchor="end" fill="#000" stroke="#000" stroke-width="0.18">20</text>
<line x1="301.0" y1="118.9" x2="302.6" y2="118.9" stroke="#222" stroke-width="0.6"/>
<text x="299.2" y="122.7" font-size="6" text-anchor="end" fill="#000" stroke="#000" stroke-width="0.18">0</text>
<line x1="302.6" y1="118.9" x2="302.6" y2="120.7" stroke="#222" stroke-width="0.6"/>
<text x="302.9" y="127.9" font-size="5" text-anchor="middle" fill="#000" stroke="#000" stroke-width="0.15">10<tspan font-size="3.4" dy="-1.9">0</tspan></text>
<line x1="326.6" y1="118.9" x2="326.6" y2="120.7" stroke="#222" stroke-width="0.6"/>
<text x="326.9" y="127.9" font-size="5" text-anchor="middle" fill="#000" stroke="#000" stroke-width="0.15">10<tspan font-size="3.4" dy="-1.9">1</tspan></text>
<line x1="350.5" y1="118.9" x2="350.5" y2="120.7" stroke="#222" stroke-width="0.6"/>
<text x="350.8" y="127.9" font-size="5" text-anchor="middle" fill="#000" stroke="#000" stroke-width="0.15">10<tspan font-size="3.4" dy="-1.9">2</tspan></text>
<line x1="374.4" y1="118.9" x2="374.4" y2="120.7" stroke="#222" stroke-width="0.6"/>
<text x="374.8" y="127.9" font-size="5" text-anchor="middle" fill="#000" stroke="#000" stroke-width="0.15">10<tspan font-size="3.4" dy="-1.9">3</tspan></text>
<line x1="398.4" y1="118.9" x2="398.4" y2="120.7" stroke="#222" stroke-width="0.6"/>
<text x="398.7" y="127.9" font-size="5" text-anchor="middle" fill="#000" stroke="#000" stroke-width="0.15">10<tspan font-size="3.4" dy="-1.9">4</tspan></text>
<text transform="translate(290.4,73.1) rotate(-90)" font-size="5.6" text-anchor="middle" fill="#000" stroke="#000" stroke-width="0.12">% of Max</text>
<polygon points="442.0,118.6 442.9,118.7 444.2,117.9 445.6,117.7 447.0,117.1 448.3,116.2 449.6,115.4 450.9,114.8 452.0,113.9 453.0,112.7 453.9,111.3 454.7,109.6 455.4,107.6 456.0,106.3 456.6,103.4 457.1,100.6 457.5,96.8 457.9,93.2 458.2,89.2 458.5,84.5 458.8,80.1 459.1,76.1 459.3,72.6 459.6,69.7 459.8,65.9 460.0,62.9 460.3,59.7 460.5,57.0 460.8,54.3 461.2,51.5 461.6,49.2 462.0,47.7 462.5,46.4 463.1,45.5 463.7,44.9 464.4,44.4 465.0,43.0 465.6,43.2 466.1,42.6 466.6,42.3 467.0,42.1 467.4,42.3 467.7,43.9 467.9,45.0 468.2,46.2 468.5,47.8 468.7,48.9 468.9,50.3 469.2,52.6 469.5,54.6 469.8,55.8 470.1,58.3 470.4,60.4 470.7,61.6 470.9,63.9 471.2,66.1 471.6,68.6 472.1,71.9 472.6,76.1 473.1,81.0 473.6,85.1 474.0,88.5 474.4,91.8 474.8,96.0 475.3,99.3 475.8,101.8 476.3,105.1 476.8,108.1 477.5,110.4 478.4,111.8 479.4,113.2 480.4,114.5 481.4,115.0 482.3,115.7 483.1,116.1 484.0,116.9 485.0,116.9 486.3,117.5 487.7,117.8 489.1,118.3 490.0,118.6 490.0,118.9 442.0,118.9" fill="#ababab" stroke="#555" stroke-width="0.6" stroke-linejoin="round"/>
<polyline points="417.0,117.0 417.0,116.2 417.1,115.4 417.3,115.1 417.6,112.5 418.0,109.8 418.5,107.8 419.2,105.9 420.0,103.3 420.8,100.9 421.6,96.5 422.3,91.8 423.0,86.5 423.5,82.1 424.0,78.7 424.5,74.4 425.1,69.7 425.8,65.5 426.5,61.5 427.3,58.8 428.1,55.7 428.8,54.0 429.4,52.5 429.8,51.7 430.3,50.5 430.8,46.7 431.3,43.0 431.8,41.7 432.4,44.5 432.9,49.2 433.5,52.1 434.0,51.0 434.5,47.9 435.0,45.5 435.5,46.9 435.9,49.3 436.3,51.6 436.7,56.7 437.0,61.6 437.4,63.6 437.8,60.9 438.3,53.7 438.8,49.8 439.3,50.3 439.7,53.2 440.2,55.2 440.6,55.7 441.0,56.3 441.5,56.7 442.2,58.2 443.0,59.1 443.8,60.2 444.5,63.8 445.2,68.8 446.0,72.9 446.8,75.4 447.7,76.5 448.5,78.1 449.3,80.8 450.1,85.6 450.8,88.2 451.4,87.8 451.9,86.5 452.6,85.6 453.4,88.9 454.4,94.3 455.4,98.9 456.4,102.1 457.5,104.7 458.8,107.8 460.2,110.6 461.8,112.3 463.5,114.4 465.3,115.7 467.2,116.4 469.2,117.4 471.6,117.6 474.2,118.1 476.0,118.6" fill="none" stroke="#111" stroke-width="0.9" stroke-linejoin="round" stroke-linecap="butt" />
<clipPath id="cp1"><rect x="416.0" y="36.6" width="97.3" height="84.5"/></clipPath>
<polyline points="436.0,117.3 437.1,117.0 438.6,117.3 440.4,116.8 442.2,117.0 444.0,116.3 445.8,115.6 447.7,115.3 449.6,114.0 451.4,113.3 452.8,112.2 453.9,111.1 454.7,109.4 455.4,108.3 456.0,106.7 456.5,105.8 457.0,104.1 457.4,102.2 457.8,100.2 458.1,98.3 458.4,96.9 458.7,95.1 458.9,93.6 459.1,91.8 459.2,90.5 459.4,89.1 459.6,88.7 459.7,88.1 459.8,87.3 460.0,86.9 460.1,84.9 460.3,82.3 460.5,78.7 460.6,75.0 460.8,71.5 461.0,67.9 461.2,64.9 461.3,62.3 461.5,59.6 461.6,57.5 461.8,54.8 462.0,53.2 462.1,50.8 462.3,49.6 462.4,47.9 462.6,46.3 462.8,45.3 463.0,44.2 463.2,43.4 463.4,42.8 463.6,42.8 463.8,43.5 464.1,44.2 464.3,45.2 464.6,45.9 464.8,47.4 465.0,49.3 465.3,50.6 465.5,53.0 465.8,54.8 466.0,57.3 466.2,58.8 466.5,61.4 466.7,63.4 467.0,65.5 467.2,67.7 467.4,70.5 467.6,72.7 467.8,75.0 468.0,77.5 468.2,80.2 468.5,82.2 468.7,84.9 469.1,87.1 469.4,89.5 469.7,92.2 470.0,94.4 470.4,96.4 470.7,98.6 471.1,100.7 471.5,103.1 471.9,104.9 472.4,106.6 472.9,108.3 473.4,110.2 474.0,111.6 474.8,112.9 475.7,113.9 476.6,114.5 477.4,115.2 478.0,116.0" fill="none" stroke="#000" stroke-width="2.5" stroke-linejoin="round" stroke-linecap="butt" stroke-dasharray="2.4 1.6" clip-path="url(#cp1)"/>
<polyline points="417.0,117.7 418.9,117.9 421.7,117.6 424.8,117.9 427.8,117.4 430.0,117.9 431.4,117.6 432.3,118.0 432.9,118.1 433.4,117.8 434.0,117.4 434.6,117.7 435.1,117.1 435.6,116.9 436.0,116.0 436.5,115.3 437.0,115.0 437.6,113.9 438.1,112.9 438.6,112.0 439.0,111.1 439.3,109.4 439.6,108.3 439.8,106.7 440.0,105.3 440.2,103.7 440.3,103.0 440.4,102.1 440.5,101.2 440.7,99.9 440.9,99.1 441.3,97.9 441.7,97.0 442.2,95.4 442.7,95.0 443.3,94.1 444.0,93.0 444.7,92.5 445.5,91.9 446.3,91.3 447.0,90.2 447.6,89.9 448.2,88.4 448.7,87.3 449.2,86.1 449.6,84.8 450.0,83.7 450.2,81.4 450.5,79.6 450.7,78.1 451.0,75.8 451.3,73.6 451.6,71.9 451.9,69.7 452.2,67.4 452.6,65.1 453.0,62.1 453.5,59.8 454.1,56.9 454.6,53.8 455.0,51.7 455.4,50.4 455.6,49.1 455.9,48.0 456.2,47.0 456.6,46.4 457.1,45.5 457.6,45.2 458.2,44.8 458.9,43.9 459.5,43.9 460.2,43.7 461.0,43.0 461.7,43.3 462.4,43.4 463.0,43.3 463.4,44.0 463.7,45.1 463.9,46.0 464.0,47.1 464.2,48.8 464.4,49.9 464.5,50.6 464.6,51.9 464.8,53.9 465.0,57.0 465.3,61.9 465.6,67.7 465.9,74.1 466.3,80.2 466.7,85.2 467.1,88.5 467.5,92.0 467.9,95.0 468.4,97.5 468.9,99.4 469.4,102.0 470.0,104.4 470.6,106.4 471.2,108.4 471.9,109.7 472.6,111.2 473.2,112.3 473.9,112.7 474.7,113.4 475.5,114.6 476.4,115.1 477.3,115.7 478.3,115.9 479.4,116.5 480.6,117.0 481.7,117.5 482.6,117.5 483.7,118.5 485.4,118.7 488.0,119.4 492.2,119.4 497.7,119.4 503.6,119.4 508.9,119.1 512.5,119.2" fill="none" stroke="#000" stroke-width="3.2" stroke-linejoin="round" stroke-linecap="butt" clip-path="url(#cp1)"/>
<rect x="416.5" y="37.6" width="96.3" height="81.3" fill="none" stroke="#555" stroke-width="0.9"/>
<polyline points="416.5,37.6 416.5,118.9 512.8,118.9" fill="none" stroke="#111" stroke-width="1.1"/>
<line x1="416.5" y1="118.9" x2="512.8" y2="118.9" stroke="#000" stroke-width="1.7"/>
<line x1="415.5" y1="42.5" x2="416.5" y2="42.5" stroke="#333" stroke-width="0.45"/>
<line x1="415.5" y1="45.6" x2="416.5" y2="45.6" stroke="#333" stroke-width="0.45"/>
<line x1="415.5" y1="48.6" x2="416.5" y2="48.6" stroke="#333" stroke-width="0.45"/>
<line x1="415.5" y1="51.7" x2="416.5" y2="51.7" stroke="#333" stroke-width="0.45"/>
<line x1="415.5" y1="54.7" x2="416.5" y2="54.7" stroke="#333" stroke-width="0.45"/>
<line x1="415.5" y1="57.8" x2="416.5" y2="57.8" stroke="#333" stroke-width="0.45"/>
<line x1="415.5" y1="60.8" x2="416.5" y2="60.8" stroke="#333" stroke-width="0.45"/>
<line x1="415.5" y1="63.9" x2="416.5" y2="63.9" stroke="#333" stroke-width="0.45"/>
<line x1="415.5" y1="66.9" x2="416.5" y2="66.9" stroke="#333" stroke-width="0.45"/>
<line x1="415.5" y1="70.0" x2="416.5" y2="70.0" stroke="#333" stroke-width="0.45"/>
<line x1="415.5" y1="73.1" x2="416.5" y2="73.1" stroke="#333" stroke-width="0.45"/>
<line x1="415.5" y1="76.1" x2="416.5" y2="76.1" stroke="#333" stroke-width="0.45"/>
<line x1="415.5" y1="79.2" x2="416.5" y2="79.2" stroke="#333" stroke-width="0.45"/>
<line x1="415.5" y1="82.2" x2="416.5" y2="82.2" stroke="#333" stroke-width="0.45"/>
<line x1="415.5" y1="85.3" x2="416.5" y2="85.3" stroke="#333" stroke-width="0.45"/>
<line x1="415.5" y1="88.3" x2="416.5" y2="88.3" stroke="#333" stroke-width="0.45"/>
<line x1="415.5" y1="91.4" x2="416.5" y2="91.4" stroke="#333" stroke-width="0.45"/>
<line x1="415.5" y1="94.5" x2="416.5" y2="94.5" stroke="#333" stroke-width="0.45"/>
<line x1="415.5" y1="97.5" x2="416.5" y2="97.5" stroke="#333" stroke-width="0.45"/>
<line x1="415.5" y1="100.6" x2="416.5" y2="100.6" stroke="#333" stroke-width="0.45"/>
<line x1="415.5" y1="103.6" x2="416.5" y2="103.6" stroke="#333" stroke-width="0.45"/>
<line x1="415.5" y1="106.7" x2="416.5" y2="106.7" stroke="#333" stroke-width="0.45"/>
<line x1="415.5" y1="109.7" x2="416.5" y2="109.7" stroke="#333" stroke-width="0.45"/>
<line x1="415.5" y1="112.8" x2="416.5" y2="112.8" stroke="#333" stroke-width="0.45"/>
<line x1="415.5" y1="115.8" x2="416.5" y2="115.8" stroke="#333" stroke-width="0.45"/>
<line x1="415.5" y1="118.9" x2="416.5" y2="118.9" stroke="#333" stroke-width="0.45"/>
<line x1="414.9" y1="42.5" x2="416.5" y2="42.5" stroke="#222" stroke-width="0.6"/>
<text x="415.1" y="45.0" font-size="6" text-anchor="end" fill="#000" stroke="#000" stroke-width="0.18">100</text>
<line x1="414.9" y1="57.8" x2="416.5" y2="57.8" stroke="#222" stroke-width="0.6"/>
<text x="415.1" y="60.5" font-size="6" text-anchor="end" fill="#000" stroke="#000" stroke-width="0.18">80</text>
<line x1="414.9" y1="73.1" x2="416.5" y2="73.1" stroke="#222" stroke-width="0.6"/>
<text x="415.1" y="76.1" font-size="6" text-anchor="end" fill="#000" stroke="#000" stroke-width="0.18">60</text>
<line x1="414.9" y1="88.3" x2="416.5" y2="88.3" stroke="#222" stroke-width="0.6"/>
<text x="415.1" y="91.6" font-size="6" text-anchor="end" fill="#000" stroke="#000" stroke-width="0.18">40</text>
<line x1="414.9" y1="103.6" x2="416.5" y2="103.6" stroke="#222" stroke-width="0.6"/>
<text x="415.1" y="107.2" font-size="6" text-anchor="end" fill="#000" stroke="#000" stroke-width="0.18">20</text>
<line x1="414.9" y1="118.9" x2="416.5" y2="118.9" stroke="#222" stroke-width="0.6"/>
<text x="413.1" y="122.7" font-size="6" text-anchor="end" fill="#000" stroke="#000" stroke-width="0.18">0</text>
<line x1="416.5" y1="118.9" x2="416.5" y2="120.7" stroke="#222" stroke-width="0.6"/>
<text x="416.8" y="127.9" font-size="5" text-anchor="middle" fill="#000" stroke="#000" stroke-width="0.15">10<tspan font-size="3.4" dy="-1.9">0</tspan></text>
<line x1="440.6" y1="118.9" x2="440.6" y2="120.7" stroke="#222" stroke-width="0.6"/>
<text x="440.9" y="127.9" font-size="5" text-anchor="middle" fill="#000" stroke="#000" stroke-width="0.15">10<tspan font-size="3.4" dy="-1.9">1</tspan></text>
<line x1="464.6" y1="118.9" x2="464.6" y2="120.7" stroke="#222" stroke-width="0.6"/>
<text x="464.9" y="127.9" font-size="5" text-anchor="middle" fill="#000" stroke="#000" stroke-width="0.15">10<tspan font-size="3.4" dy="-1.9">2</tspan></text>
<line x1="488.7" y1="118.9" x2="488.7" y2="120.7" stroke="#222" stroke-width="0.6"/>
<text x="489.0" y="127.9" font-size="5" text-anchor="middle" fill="#000" stroke="#000" stroke-width="0.15">10<tspan font-size="3.4" dy="-1.9">3</tspan></text>
<line x1="512.8" y1="118.9" x2="512.8" y2="120.7" stroke="#222" stroke-width="0.6"/>
<text x="513.1" y="127.9" font-size="5" text-anchor="middle" fill="#000" stroke="#000" stroke-width="0.15">10<tspan font-size="3.4" dy="-1.9">4</tspan></text>
<text transform="translate(404.3,73.1) rotate(-90)" font-size="5.6" text-anchor="middle" fill="#000" stroke="#000" stroke-width="0.12">% of Max</text>
<polygon points="308.5,237.4 309.0,236.4 309.8,235.2 310.6,233.1 311.5,230.8 312.3,229.0 313.2,226.8 314.1,225.0 315.0,221.8 315.9,219.0 316.8,216.4 317.7,212.8 318.5,210.1 319.3,207.3 320.1,203.7 320.8,200.2 321.5,197.0 322.2,193.4 322.8,189.1 323.4,185.3 324.0,181.9 324.5,179.1 325.0,176.6 325.5,174.0 326.0,171.7 326.5,169.4 327.0,167.8 327.5,166.4 328.0,165.1 328.5,165.1 329.0,165.9 329.5,166.3 330.0,167.2 330.4,166.5 330.8,165.8 331.1,164.9 331.5,164.0 331.9,163.1 332.4,162.4 332.8,161.9 333.3,162.0 333.8,162.0 334.4,162.7 334.9,162.7 335.5,163.9 336.1,165.3 336.7,165.7 337.4,167.2 338.0,168.5 338.6,169.8 339.2,172.1 339.7,173.1 340.3,175.3 340.8,176.3 341.4,177.8 341.9,180.4 342.5,182.2 343.2,184.8 344.0,188.4 344.8,192.1 345.5,196.2 346.1,199.8 346.7,204.4 347.2,209.6 347.8,213.2 348.4,215.9 348.9,219.0 349.4,221.5 350.0,224.2 350.5,226.2 351.1,228.2 351.7,229.7 352.5,231.0 353.6,232.9 354.9,234.7 356.2,236.2 357.5,237.0 358.8,237.4 360.1,237.4 361.2,237.4 362.0,237.4 362.0,237.6 308.5,237.6" fill="#ababab" stroke="#555" stroke-width="0.6" stroke-linejoin="round"/>
<polyline points="303.2,237.0 303.3,233.2 303.4,227.3 303.6,222.4 303.8,218.1 304.1,216.0 304.5,212.5 305.2,210.8 306.0,208.3 306.8,205.4 307.4,202.2 308.0,197.7 308.6,193.7 309.2,190.8 309.7,187.8 310.2,184.7 310.6,181.8 310.9,179.3 311.3,177.0 311.7,174.9 312.1,172.4 312.5,170.7 312.9,169.8 313.3,169.0 313.8,167.8 314.4,165.8 315.0,162.9 315.5,161.0 315.9,161.6 316.1,163.4 316.4,165.8 316.7,167.6 316.9,170.1 317.2,173.1 317.5,176.9 317.9,182.9 318.3,186.8 318.9,190.4 319.6,192.9 320.2,196.5 320.8,201.3 321.3,208.0 321.8,213.4 322.1,214.3 322.5,214.6 323.0,216.1 324.0,218.7 325.2,222.6 326.4,225.7 327.4,228.0 328.5,230.8 329.8,232.3 331.5,234.0 333.5,235.6 335.6,236.4 337.9,236.9 340.3,237.3 342.0,237.3" fill="none" stroke="#111" stroke-width="0.9" stroke-linejoin="round" stroke-linecap="butt" />
<clipPath id="cp2"><rect x="302.1" y="155.3" width="96.8" height="84.5"/></clipPath>
<polyline points="308.0,236.5 308.4,235.7 308.9,235.0 309.5,233.7 310.1,232.5 310.7,231.3 311.2,230.8 311.8,230.3 312.3,229.9 312.9,229.4 313.6,228.9 314.5,228.1 315.4,226.7 316.5,225.6 317.4,224.5 318.3,223.7 319.0,222.4 319.6,221.6 320.2,220.9 320.7,219.6 321.2,218.7 321.7,218.0 322.2,216.7 322.6,215.3 323.1,213.9 323.5,213.1 323.9,211.8 324.3,210.7 324.6,209.6 325.0,208.4 325.3,207.0 325.6,205.8 325.9,205.1 326.2,204.4 326.4,203.3 326.7,201.8 327.0,200.1 327.2,198.4 327.4,196.3 327.7,193.8 328.0,191.8 328.3,189.0 328.7,185.8 329.1,183.1 329.5,180.5 330.0,177.6 330.5,175.4 331.1,172.6 331.8,170.6 332.4,168.9 333.0,167.1 333.6,165.5 334.2,163.7 334.7,162.7 335.3,162.1 335.8,161.9 336.2,163.0 336.6,164.6 337.0,167.0 337.4,168.9 337.8,170.7 338.3,172.2 338.8,173.7 339.3,175.6 339.8,176.8 340.2,178.6 340.5,180.5 340.8,182.8 341.0,185.1 341.2,187.1 341.4,189.4 341.6,191.1 341.9,193.4 342.1,196.1 342.3,198.0 342.5,200.1 342.7,201.6 342.9,202.9 343.1,204.3 343.3,205.5 343.5,207.2 343.8,208.2 344.1,209.1 344.5,210.3 344.8,211.4 345.2,212.6 345.6,214.9 346.0,216.7 346.4,219.1 346.9,220.9 347.4,223.1 348.0,224.8 348.6,226.7 349.3,229.2 350.0,230.9 350.8,232.2 351.7,233.9 352.7,235.1 353.7,235.8 354.6,236.8 355.2,237.4" fill="none" stroke="#000" stroke-width="2.5" stroke-linejoin="round" stroke-linecap="butt" stroke-dasharray="2.4 1.6" clip-path="url(#cp2)"/>
<polyline points="303.0,236.4 303.6,236.8 304.5,236.6 305.6,237.0 306.6,236.5 307.5,236.3 308.3,235.9 309.0,234.7 309.6,233.7 310.2,233.1 310.7,232.0 311.0,231.6 311.2,230.8 311.3,230.4 311.5,230.0 311.8,229.1 312.3,228.5 312.9,226.7 313.6,225.4 314.2,223.5 314.8,222.3 315.3,220.8 315.8,219.5 316.2,217.8 316.7,216.4 317.1,215.4 317.6,213.5 318.0,211.8 318.5,210.1 319.0,208.5 319.4,206.8 319.8,205.2 320.2,204.2 320.6,202.5 321.0,200.7 321.4,199.1 321.9,196.3 322.4,193.6 323.0,191.1 323.5,187.6 324.0,185.0 324.5,182.5 324.9,179.8 325.4,176.7 325.8,174.3 326.2,172.2 326.6,169.5 326.9,167.4 327.3,164.6 327.6,163.4 328.0,162.3 328.4,162.4 328.7,163.8 329.1,165.3 329.5,167.7 329.8,169.3 330.1,171.7 330.4,173.5 330.7,175.5 331.0,177.6 331.3,180.1 331.6,182.1 332.0,184.9 332.3,186.7 332.7,189.3 333.0,191.5 333.3,193.4 333.7,195.7 334.0,197.3 334.3,199.3 334.6,201.0 334.8,202.6 334.9,204.4 334.9,205.8 335.1,207.5 335.3,209.6 335.6,210.9 336.1,212.8 336.6,214.1 337.1,216.0 337.6,217.5 338.1,219.3 338.7,220.8 339.3,222.4 339.9,224.2 340.5,225.6 341.1,226.9 341.6,228.6 342.1,229.5 342.8,230.7 343.5,232.3 344.3,233.5 345.1,235.0 346.0,236.3 347.1,236.9 348.6,237.8 350.1,238.1 351.4,238.1 353.2,238.1 355.9,237.7 360.0,238.1 366.5,238.1 375.1,237.8 384.3,237.9 392.4,238.1 398.0,237.9" fill="none" stroke="#000" stroke-width="3.2" stroke-linejoin="round" stroke-linecap="butt" clip-path="url(#cp2)"/>
<rect x="302.6" y="156.3" width="95.8" height="81.3" fill="none" stroke="#555" stroke-width="0.9"/>
<polyline points="302.6,156.3 302.6,237.6 398.4,237.6" fill="none" stroke="#111" stroke-width="1.1"/>
<line x1="302.6" y1="237.6" x2="398.4" y2="237.6" stroke="#000" stroke-width="1.7"/>
<line x1="301.6" y1="161.2" x2="302.6" y2="161.2" stroke="#333" stroke-width="0.45"/>
<line x1="301.6" y1="164.3" x2="302.6" y2="164.3" stroke="#333" stroke-width="0.45"/>
<line x1="301.6" y1="167.3" x2="302.6" y2="167.3" stroke="#333" stroke-width="0.45"/>
<line x1="301.6" y1="170.4" x2="302.6" y2="170.4" stroke="#333" stroke-width="0.45"/>
<line x1="301.6" y1="173.4" x2="302.6" y2="173.4" stroke="#333" stroke-width="0.45"/>
<line x1="301.6" y1="176.5" x2="302.6" y2="176.5" stroke="#333" stroke-width="0.45"/>
<line x1="301.6" y1="179.5" x2="302.6" y2="179.5" stroke="#333" stroke-width="0.45"/>
<line x1="301.6" y1="182.6" x2="302.6" y2="182.6" stroke="#333" stroke-width="0.45"/>
<line x1="301.6" y1="185.6" x2="302.6" y2="185.6" stroke="#333" stroke-width="0.45"/>
<line x1="301.6" y1="188.7" x2="302.6" y2="188.7" stroke="#333" stroke-width="0.45"/>
<line x1="301.6" y1="191.8" x2="302.6" y2="191.8" stroke="#333" stroke-width="0.45"/>
<line x1="301.6" y1="194.8" x2="302.6" y2="194.8" stroke="#333" stroke-width="0.45"/>
<line x1="301.6" y1="197.9" x2="302.6" y2="197.9" stroke="#333" stroke-width="0.45"/>
<line x1="301.6" y1="200.9" x2="302.6" y2="200.9" stroke="#333" stroke-width="0.45"/>
<line x1="301.6" y1="204.0" x2="302.6" y2="204.0" stroke="#333" stroke-width="0.45"/>
<line x1="301.6" y1="207.0" x2="302.6" y2="207.0" stroke="#333" stroke-width="0.45"/>
<line x1="301.6" y1="210.1" x2="302.6" y2="210.1" stroke="#333" stroke-width="0.45"/>
<line x1="301.6" y1="213.2" x2="302.6" y2="213.2" stroke="#333" stroke-width="0.45"/>
<line x1="301.6" y1="216.2" x2="302.6" y2="216.2" stroke="#333" stroke-width="0.45"/>
<line x1="301.6" y1="219.3" x2="302.6" y2="219.3" stroke="#333" stroke-width="0.45"/>
<line x1="301.6" y1="222.3" x2="302.6" y2="222.3" stroke="#333" stroke-width="0.45"/>
<line x1="301.6" y1="225.4" x2="302.6" y2="225.4" stroke="#333" stroke-width="0.45"/>
<line x1="301.6" y1="228.4" x2="302.6" y2="228.4" stroke="#333" stroke-width="0.45"/>
<line x1="301.6" y1="231.5" x2="302.6" y2="231.5" stroke="#333" stroke-width="0.45"/>
<line x1="301.6" y1="234.5" x2="302.6" y2="234.5" stroke="#333" stroke-width="0.45"/>
<line x1="301.6" y1="237.6" x2="302.6" y2="237.6" stroke="#333" stroke-width="0.45"/>
<line x1="301.0" y1="161.2" x2="302.6" y2="161.2" stroke="#222" stroke-width="0.6"/>
<text x="301.2" y="163.2" font-size="6" text-anchor="end" fill="#000" stroke="#000" stroke-width="0.18">100</text>
<line x1="301.0" y1="176.5" x2="302.6" y2="176.5" stroke="#222" stroke-width="0.6"/>
<text x="301.2" y="178.7" font-size="6" text-anchor="end" fill="#000" stroke="#000" stroke-width="0.18">80</text>
<line x1="301.0" y1="191.8" x2="302.6" y2="191.8" stroke="#222" stroke-width="0.6"/>
<text x="301.2" y="194.2" font-size="6" text-anchor="end" fill="#000" stroke="#000" stroke-width="0.18">60</text>
<line x1="301.0" y1="207.0" x2="302.6" y2="207.0" stroke="#222" stroke-width="0.6"/>
<text x="301.2" y="209.8" font-size="6" text-anchor="end" fill="#000" stroke="#000" stroke-width="0.18">40</text>
<line x1="301.0" y1="222.3" x2="302.6" y2="222.3" stroke="#222" stroke-width="0.6"/>
<text x="301.2" y="225.3" font-size="6" text-anchor="end" fill="#000" stroke="#000" stroke-width="0.18">20</text>
<line x1="301.0" y1="237.6" x2="302.6" y2="237.6" stroke="#222" stroke-width="0.6"/>
<text x="299.2" y="240.9" font-size="6" text-anchor="end" fill="#000" stroke="#000" stroke-width="0.18">0</text>
<line x1="302.6" y1="237.6" x2="302.6" y2="239.4" stroke="#222" stroke-width="0.6"/>
<text x="302.9" y="246.6" font-size="5" text-anchor="middle" fill="#000" stroke="#000" stroke-width="0.15">10<tspan font-size="3.4" dy="-1.9">0</tspan></text>
<line x1="326.6" y1="237.6" x2="326.6" y2="239.4" stroke="#222" stroke-width="0.6"/>
<text x="326.9" y="246.6" font-size="5" text-anchor="middle" fill="#000" stroke="#000" stroke-width="0.15">10<tspan font-size="3.4" dy="-1.9">1</tspan></text>
<line x1="350.5" y1="237.6" x2="350.5" y2="239.4" stroke="#222" stroke-width="0.6"/>
<text x="350.8" y="246.6" font-size="5" text-anchor="middle" fill="#000" stroke="#000" stroke-width="0.15">10<tspan font-size="3.4" dy="-1.9">2</tspan></text>
<line x1="374.4" y1="237.6" x2="374.4" y2="239.4" stroke="#222" stroke-width="0.6"/>
<text x="374.8" y="246.6" font-size="5" text-anchor="middle" fill="#000" stroke="#000" stroke-width="0.15">10<tspan font-size="3.4" dy="-1.9">3</tspan></text>
<line x1="398.4" y1="237.6" x2="398.4" y2="239.4" stroke="#222" stroke-width="0.6"/>
<text x="398.7" y="246.6" font-size="5" text-anchor="middle" fill="#000" stroke="#000" stroke-width="0.15">10<tspan font-size="3.4" dy="-1.9">4</tspan></text>
<text transform="translate(290.4,191.8) rotate(-90)" font-size="5.6" text-anchor="middle" fill="#000" stroke="#000" stroke-width="0.12">% of Max</text>
<polygon points="437.0,237.6 438.3,236.4 440.2,234.0 442.2,232.4 443.8,229.9 444.9,228.4 445.8,226.3 446.5,224.5 447.3,223.4 448.2,221.1 449.1,218.9 450.0,215.8 450.8,213.3 451.6,210.9 452.2,208.2 452.9,205.6 453.5,202.9 454.0,199.9 454.5,197.5 454.9,195.0 455.4,191.2 456.0,187.4 456.6,182.0 457.2,177.2 457.7,172.8 458.1,170.3 458.4,168.8 458.7,167.2 459.0,165.5 459.4,164.8 459.8,163.4 460.1,161.8 460.5,161.0 460.8,162.1 461.1,162.7 461.4,163.3 461.7,164.7 462.0,165.7 462.2,167.5 462.5,168.4 462.8,171.2 463.2,173.8 463.7,176.5 464.1,180.8 464.6,184.5 465.0,189.4 465.5,194.7 465.9,199.0 466.2,202.6 466.4,205.4 466.4,205.7 466.5,206.9 466.7,208.2 467.0,211.1 467.5,214.8 468.0,218.3 468.6,221.5 469.3,224.0 470.1,227.4 471.0,229.6 472.0,231.7 473.1,233.7 474.3,234.0 475.6,235.5 477.0,235.5 478.8,236.9 480.8,237.4 482.7,237.2 484.0,237.7 484.0,237.9 437.0,237.9" fill="#ababab" stroke="#555" stroke-width="0.6" stroke-linejoin="round"/>
<polyline points="417.0,236.5 417.0,236.3 417.1,236.2 417.3,234.7 417.6,232.5 418.0,229.4 418.5,226.6 419.0,224.5 419.7,222.3 420.3,219.7 420.9,217.3 421.6,214.4 422.3,211.9 423.1,208.3 423.8,203.9 424.5,199.7 425.0,195.4 425.3,190.5 425.8,186.4 426.5,181.4 427.3,177.1 428.0,174.4 428.6,172.1 429.1,172.0 429.7,170.5 430.4,167.8 431.1,163.6 431.8,162.1 432.4,164.1 433.0,169.4 433.5,172.1 434.0,169.9 434.5,166.0 435.0,164.1 435.6,166.5 436.3,171.9 437.0,175.3 437.7,174.4 438.5,171.6 439.2,169.4 439.8,167.6 440.4,166.6 441.0,165.9 441.7,166.9 442.3,169.5 443.0,172.0 443.7,173.6 444.3,175.0 445.0,177.3 445.7,180.9 446.5,186.2 447.3,189.5 448.1,190.6 448.8,192.2 449.6,194.3 450.4,197.3 451.2,201.1 452.0,205.4 452.7,208.4 453.3,210.8 454.0,214.0 454.9,216.8 455.9,221.2 457.0,224.1 458.2,227.1 459.5,230.1 461.0,232.2 462.8,233.6 464.9,235.1 467.0,236.1 469.5,236.7 472.1,237.7 474.0,237.6" fill="none" stroke="#111" stroke-width="0.9" stroke-linejoin="round" stroke-linecap="butt" />
<clipPath id="cp3"><rect x="416.0" y="155.3" width="97.3" height="84.8"/></clipPath>
<polyline points="424.0,237.3 424.9,237.3 426.1,236.8 427.5,236.4 428.9,236.5 430.0,236.4 430.7,236.4 431.2,235.9 431.7,236.2 432.2,236.2 433.0,236.0 434.1,235.6 435.5,235.4 437.0,235.5 438.4,234.8 439.6,234.3 440.5,233.7 441.4,232.6 442.1,231.9 442.7,230.4 443.3,229.0 443.8,228.0 444.3,226.6 444.7,225.2 445.1,223.6 445.5,222.2 446.0,220.8 446.4,219.0 446.9,217.6 447.3,215.9 447.7,214.5 448.0,213.2 448.3,211.4 448.5,210.3 448.7,208.6 448.9,207.3 449.0,206.1 449.1,204.2 449.1,202.7 449.1,201.5 449.2,199.8 449.3,198.6 449.5,196.5 449.6,195.4 449.8,193.8 450.0,192.2 450.2,190.5 450.4,189.1 450.7,187.9 450.9,186.3 451.2,184.6 451.5,182.4 451.8,180.1 452.1,177.8 452.5,175.4 452.8,173.2 453.1,170.6 453.4,168.4 453.7,166.3 454.0,164.8 454.4,163.7 454.8,163.7 455.2,164.4 455.6,165.9 456.1,167.3 456.5,168.8 457.0,169.5 457.5,170.2 457.9,171.0 458.4,171.9 458.8,173.1 459.1,175.1 459.4,176.9 459.6,179.7 459.8,182.2 460.0,184.5 460.1,187.0 460.3,189.7 460.4,191.8 460.4,194.1 460.5,195.9 460.6,197.6 460.6,199.4 460.6,200.2 460.7,201.6 460.7,203.1 460.7,204.1 460.7,204.9 460.7,206.3 460.8,207.3 460.9,208.8 461.1,210.5 461.4,212.6 461.7,214.8 462.0,216.9 462.3,218.8 462.6,220.7 462.9,223.1 463.2,224.7 463.5,226.1 463.8,228.0 464.1,228.9 464.4,229.8 464.7,231.0 465.1,231.6 465.5,232.5 466.0,233.3 466.6,233.7 467.2,234.5 467.8,234.7 468.5,235.5 469.2,236.1 470.0,236.3 470.8,237.0 471.5,237.2 472.0,237.7" fill="none" stroke="#000" stroke-width="2.5" stroke-linejoin="round" stroke-linecap="butt" stroke-dasharray="2.4 1.6" clip-path="url(#cp3)"/>
<polyline points="417.0,236.7 417.6,236.7 418.4,237.0 419.3,236.7 420.2,236.9 421.0,236.9 421.6,236.5 422.2,237.2 422.8,237.0 423.4,236.6 424.0,236.9 424.7,236.4 425.5,235.8 426.4,236.0 427.2,235.1 427.9,234.6 428.6,233.3 429.2,232.9 429.7,231.3 430.3,230.3 430.8,229.2 431.3,227.7 431.7,226.7 432.2,225.0 432.6,223.5 433.0,222.1 433.5,220.1 433.9,218.3 434.4,215.9 434.8,214.0 435.2,211.7 435.5,210.2 435.8,208.4 436.0,206.2 436.2,204.9 436.4,202.9 436.6,201.4 436.9,199.7 437.1,198.0 437.3,195.7 437.6,193.9 437.9,192.0 438.3,189.7 438.6,187.1 439.0,184.2 439.4,182.4 439.8,180.0 440.2,178.5 440.6,176.9 440.9,174.6 441.3,173.3 441.6,171.0 442.0,168.2 442.3,165.8 442.6,164.1 442.9,163.2 443.2,162.9 443.5,163.1 443.8,164.0 444.1,165.2 444.3,166.7 444.5,167.0 444.6,167.9 444.8,168.5 445.0,169.8 445.2,170.9 445.6,172.6 446.0,175.3 446.5,177.5 446.9,180.1 447.3,182.5 447.6,184.9 447.9,186.5 448.2,188.9 448.4,190.9 448.6,193.0 448.7,194.9 448.8,196.2 448.9,196.9 449.0,198.3 449.3,200.2 449.8,201.8 450.4,203.3 451.0,205.2 451.7,206.8 452.4,209.0 453.1,210.5 453.8,212.6 454.4,214.2 455.1,215.5 455.7,217.5 456.2,219.2 456.6,221.5 457.0,223.1 457.4,224.5 457.9,226.2 458.5,227.8 459.2,229.3 459.9,230.7 460.7,231.8 461.6,232.8 462.5,233.4 463.5,234.5 464.6,234.9 465.6,235.2 466.7,236.0 467.7,236.9 468.7,236.8 469.7,237.3 470.8,238.1 472.0,238.1 473.0,238.4 473.8,238.4 474.9,238.4 476.8,238.1 480.0,238.3 485.5,238.1 492.8,238.3 500.7,238.3 507.7,238.4 512.5,238.2" fill="none" stroke="#000" stroke-width="3.2" stroke-linejoin="round" stroke-linecap="butt" clip-path="url(#cp3)"/>
<rect x="416.5" y="156.3" width="96.3" height="81.6" fill="none" stroke="#555" stroke-width="0.9"/>
<polyline points="416.5,156.3 416.5,237.9 512.8,237.9" fill="none" stroke="#111" stroke-width="1.1"/>
<line x1="416.5" y1="237.9" x2="512.8" y2="237.9" stroke="#000" stroke-width="1.7"/>
<line x1="415.5" y1="161.2" x2="416.5" y2="161.2" stroke="#333" stroke-width="0.45"/>
<line x1="415.5" y1="164.3" x2="416.5" y2="164.3" stroke="#333" stroke-width="0.45"/>
<line x1="415.5" y1="167.3" x2="416.5" y2="167.3" stroke="#333" stroke-width="0.45"/>
<line x1="415.5" y1="170.4" x2="416.5" y2="170.4" stroke="#333" stroke-width="0.45"/>
<line x1="415.5" y1="173.5" x2="416.5" y2="173.5" stroke="#333" stroke-width="0.45"/>
<line x1="415.5" y1="176.5" x2="416.5" y2="176.5" stroke="#333" stroke-width="0.45"/>
<line x1="415.5" y1="179.6" x2="416.5" y2="179.6" stroke="#333" stroke-width="0.45"/>
<line x1="415.5" y1="182.7" x2="416.5" y2="182.7" stroke="#333" stroke-width="0.45"/>
<line x1="415.5" y1="185.7" x2="416.5" y2="185.7" stroke="#333" stroke-width="0.45"/>
<line x1="415.5" y1="188.8" x2="416.5" y2="188.8" stroke="#333" stroke-width="0.45"/>
<line x1="415.5" y1="191.9" x2="416.5" y2="191.9" stroke="#333" stroke-width="0.45"/>
<line x1="415.5" y1="194.9" x2="416.5" y2="194.9" stroke="#333" stroke-width="0.45"/>
<line x1="415.5" y1="198.0" x2="416.5" y2="198.0" stroke="#333" stroke-width="0.45"/>
<line x1="415.5" y1="201.1" x2="416.5" y2="201.1" stroke="#333" stroke-width="0.45"/>
<line x1="415.5" y1="204.2" x2="416.5" y2="204.2" stroke="#333" stroke-width="0.45"/>
<line x1="415.5" y1="207.2" x2="416.5" y2="207.2" stroke="#333" stroke-width="0.45"/>
<line x1="415.5" y1="210.3" x2="416.5" y2="210.3" stroke="#333" stroke-width="0.45"/>
<line x1="415.5" y1="213.4" x2="416.5" y2="213.4" stroke="#333" stroke-width="0.45"/>
<line x1="415.5" y1="216.4" x2="416.5" y2="216.4" stroke="#333" stroke-width="0.45"/>
<line x1="415.5" y1="219.5" x2="416.5" y2="219.5" stroke="#333" stroke-width="0.45"/>
<line x1="415.5" y1="222.6" x2="416.5" y2="222.6" stroke="#333" stroke-width="0.45"/>
<line x1="415.5" y1="225.6" x2="416.5" y2="225.6" stroke="#333" stroke-width="0.45"/>
<line x1="415.5" y1="228.7" x2="416.5" y2="228.7" stroke="#333" stroke-width="0.45"/>
<line x1="415.5" y1="231.8" x2="416.5" y2="231.8" stroke="#333" stroke-width="0.45"/>
<line x1="415.5" y1="234.8" x2="416.5" y2="234.8" stroke="#333" stroke-width="0.45"/>
<line x1="415.5" y1="237.9" x2="416.5" y2="237.9" stroke="#333" stroke-width="0.45"/>
<line x1="414.9" y1="161.2" x2="416.5" y2="161.2" stroke="#222" stroke-width="0.6"/>
<text x="415.1" y="163.2" font-size="6" text-anchor="end" fill="#000" stroke="#000" stroke-width="0.18">100</text>
<line x1="414.9" y1="176.5" x2="416.5" y2="176.5" stroke="#222" stroke-width="0.6"/>
<text x="415.1" y="178.7" font-size="6" text-anchor="end" fill="#000" stroke="#000" stroke-width="0.18">80</text>
<line x1="414.9" y1="191.9" x2="416.5" y2="191.9" stroke="#222" stroke-width="0.6"/>
<text x="415.1" y="194.2" font-size="6" text-anchor="end" fill="#000" stroke="#000" stroke-width="0.18">60</text>
<line x1="414.9" y1="207.2" x2="416.5" y2="207.2" stroke="#222" stroke-width="0.6"/>
<text x="415.1" y="209.8" font-size="6" text-anchor="end" fill="#000" stroke="#000" stroke-width="0.18">40</text>
<line x1="414.9" y1="222.6" x2="416.5" y2="222.6" stroke="#222" stroke-width="0.6"/>
<text x="415.1" y="225.3" font-size="6" text-anchor="end" fill="#000" stroke="#000" stroke-width="0.18">20</text>
<line x1="414.9" y1="237.9" x2="416.5" y2="237.9" stroke="#222" stroke-width="0.6"/>
<text x="413.1" y="240.9" font-size="6" text-anchor="end" fill="#000" stroke="#000" stroke-width="0.18">0</text>
<line x1="416.5" y1="237.9" x2="416.5" y2="239.7" stroke="#222" stroke-width="0.6"/>
<text x="416.8" y="246.9" font-size="5" text-anchor="middle" fill="#000" stroke="#000" stroke-width="0.15">10<tspan font-size="3.4" dy="-1.9">0</tspan></text>
<line x1="440.6" y1="237.9" x2="440.6" y2="239.7" stroke="#222" stroke-width="0.6"/>
<text x="440.9" y="246.9" font-size="5" text-anchor="middle" fill="#000" stroke="#000" stroke-width="0.15">10<tspan font-size="3.4" dy="-1.9">1</tspan></text>
<line x1="464.6" y1="237.9" x2="464.6" y2="239.7" stroke="#222" stroke-width="0.6"/>
<text x="464.9" y="246.9" font-size="5" text-anchor="middle" fill="#000" stroke="#000" stroke-width="0.15">10<tspan font-size="3.4" dy="-1.9">2</tspan></text>
<line x1="488.7" y1="237.9" x2="488.7" y2="239.7" stroke="#222" stroke-width="0.6"/>
<text x="489.0" y="246.9" font-size="5" text-anchor="middle" fill="#000" stroke="#000" stroke-width="0.15">10<tspan font-size="3.4" dy="-1.9">3</tspan></text>
<line x1="512.8" y1="237.9" x2="512.8" y2="239.7" stroke="#222" stroke-width="0.6"/>
<text x="513.1" y="246.9" font-size="5" text-anchor="middle" fill="#000" stroke="#000" stroke-width="0.15">10<tspan font-size="3.4" dy="-1.9">4</tspan></text>
<text transform="translate(404.3,191.8) rotate(-90)" font-size="5.6" text-anchor="middle" fill="#000" stroke="#000" stroke-width="0.12">% of Max</text>
<line x1="307.0" y1="134.2" x2="497.0" y2="134.2" stroke="#000" stroke-width="1.25"/><polygon points="506.0,134.2 496.0,129.6 496.0,138.8" fill="#000"/>
<line x1="313.7" y1="253.3" x2="501.1" y2="253.3" stroke="#000" stroke-width="1.25"/><polygon points="510.5,253.3 500.1,248.7 500.1,257.9" fill="#000"/>
</svg>
</body></html>
